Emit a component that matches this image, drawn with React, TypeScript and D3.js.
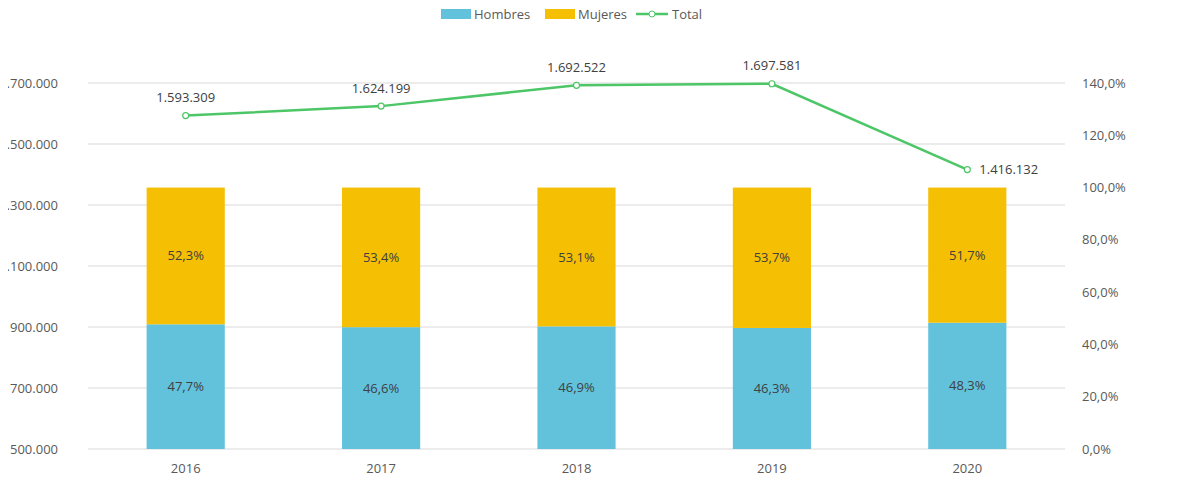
import React, { useRef, useEffect } from 'react';
import * as d3 from 'd3';

const years = ['2016', '2017', '2018', '2019', '2020'];
const hombres = [47.7, 46.6, 46.9, 46.3, 48.3];
const mujeres = [52.3, 53.4, 53.1, 53.7, 51.7];
const totals = [1593309, 1624199, 1692522, 1697581, 1416132];
const leftTicks = [500000, 700000, 900000, 1100000, 1300000, 1500000, 1700000];
const rightTicks = [0, 20, 40, 60, 80, 100, 120, 140];

const fmtNum = (v: number) => d3.format(',')(v).replace(/,/g, '.');
const fmtPct = (v: number) => v.toFixed(1).replace('.', ',') + '%';

const W = 1180, H = 484;
const M = { top: 83, right: 115, bottom: 35, left: 88 };
const FONT = '"Open Sans", "Liberation Sans", sans-serif';

const App: React.FC = () => {
  const ref = useRef<SVGSVGElement>(null);

  useEffect(() => {
    const svg = d3.select(ref.current);
    svg.selectAll('*').remove();
    const x = d3.scaleBand().domain(years).range([M.left, W - M.right]).paddingInner(0.6).paddingOuter(0.3);
    const yL = d3.scaleLinear().domain([500000, 1700000]).range([H - M.bottom, M.top]);
    const yR = d3.scaleLinear().domain([0, 140]).range([H - M.bottom, M.top]);
    const txt = '#595959';

    // grid
    svg.append('g').selectAll('line').data(leftTicks.slice(1)).enter().append('line')
      .attr('x1', M.left).attr('x2', W - M.right)
      .attr('y1', d => yL(d)).attr('y2', d => yL(d))
      .attr('stroke', '#d9d9d9');
    svg.append('line').attr('x1', M.left).attr('x2', W - M.right)
      .attr('y1', yL(500000)).attr('y2', yL(500000)).attr('stroke', '#d9d9d9');

    // left axis labels
    svg.append('g').selectAll('text').data(leftTicks).enter().append('text')
      .attr('x', 58).attr('y', d => yL(d)).attr('dy', '0.35em').attr('text-anchor', 'end')
      .attr('fill', txt).attr('font-size', 13).attr('font-family', FONT).text(d => fmtNum(d));
    svg.append('g').selectAll('text').data(rightTicks).enter().append('text')
      .attr('x', 1082).attr('y', d => yR(d)).attr('dy', '0.35em')
      .attr('fill', txt).attr('font-size', 13).attr('font-family', FONT).text(d => fmtPct(d));
    svg.append('g').selectAll('text').data(years).enter().append('text')
      .attr('x', d => (x(d) as number) + x.bandwidth() / 2).attr('y', H - M.bottom + 24)
      .attr('text-anchor', 'middle').attr('fill', txt).attr('font-size', 13).attr('font-family', FONT).text(d => d);

    // bars
    const bw = x.bandwidth();
    years.forEach((yr, i) => {
      const x0 = x(yr) as number;
      svg.append('rect').attr('x', x0).attr('width', bw)
        .attr('y', yR(hombres[i])).attr('height', yR(0) - yR(hombres[i])).attr('fill', '#62c2dc');
      svg.append('rect').attr('x', x0).attr('width', bw)
        .attr('y', yR(hombres[i] + mujeres[i])).attr('height', yR(hombres[i]) - yR(hombres[i] + mujeres[i])).attr('fill', '#f5bf04');
      svg.append('text').attr('x', x0 + bw / 2).attr('y', yR(hombres[i] / 2)).attr('dy', '0.35em')
        .attr('text-anchor', 'middle').attr('fill', '#404040').attr('font-size', 13).attr('font-family', FONT).text(fmtPct(hombres[i]));
      svg.append('text').attr('x', x0 + bw / 2).attr('y', yR(hombres[i] + mujeres[i] / 2)).attr('dy', '0.35em')
        .attr('text-anchor', 'middle').attr('fill', '#404040').attr('font-size', 13).attr('font-family', FONT).text(fmtPct(mujeres[i]));
    });

    // line
    const cx = (i: number) => (x(years[i]) as number) + bw / 2;
    const line = d3.line<number>().x((_, i) => cx(i)).y(d => yL(d));
    svg.append('path').datum(totals).attr('d', line).attr('fill', 'none')
      .attr('stroke', '#4dc667').attr('stroke-width', 2.5);
    totals.forEach((t, i) => {
      svg.append('circle').attr('cx', cx(i)).attr('cy', yL(t)).attr('r', 3)
        .attr('fill', '#fff').attr('stroke', '#4dc667').attr('stroke-width', 1.2);
      const last = i === totals.length - 1;
      svg.append('text').attr('x', last ? cx(i) + 12 : cx(i)).attr('y', last ? yL(t) : yL(t) - 18)
        .attr('dy', '0.35em').attr('text-anchor', last ? 'start' : 'middle')
        .attr('fill', '#404040').attr('font-size', 13).attr('font-family', FONT).text(fmtNum(t));
    });

    // legend
    const lg = svg.append('g').attr('font-family', FONT).attr('font-size', 13).attr('fill', txt);
    lg.append('rect').attr('x', 441).attr('y', 9).attr('width', 30).attr('height', 10).attr('fill', '#62c2dc');
    lg.append('text').attr('x', 474).attr('y', 14).attr('dy', '0.35em').text('Hombres');
    lg.append('rect').attr('x', 545).attr('y', 9).attr('width', 30).attr('height', 10).attr('fill', '#f5bf04');
    lg.append('text').attr('x', 578).attr('y', 14).attr('dy', '0.35em').text('Mujeres');
    lg.append('line').attr('x1', 636).attr('x2', 668).attr('y1', 14).attr('y2', 14).attr('stroke', '#4dc667').attr('stroke-width', 2.5);
    lg.append('circle').attr('cx', 652).attr('cy', 14).attr('r', 3).attr('fill', '#fff').attr('stroke', '#4dc667');
    lg.append('text').attr('x', 672).attr('y', 14).attr('dy', '0.35em').text('Total');
  }, []);

  return <svg ref={ref} width={W} height={H} style={{ display: 'block', margin: -8, background: '#fff' }} />;
};

export default App;
